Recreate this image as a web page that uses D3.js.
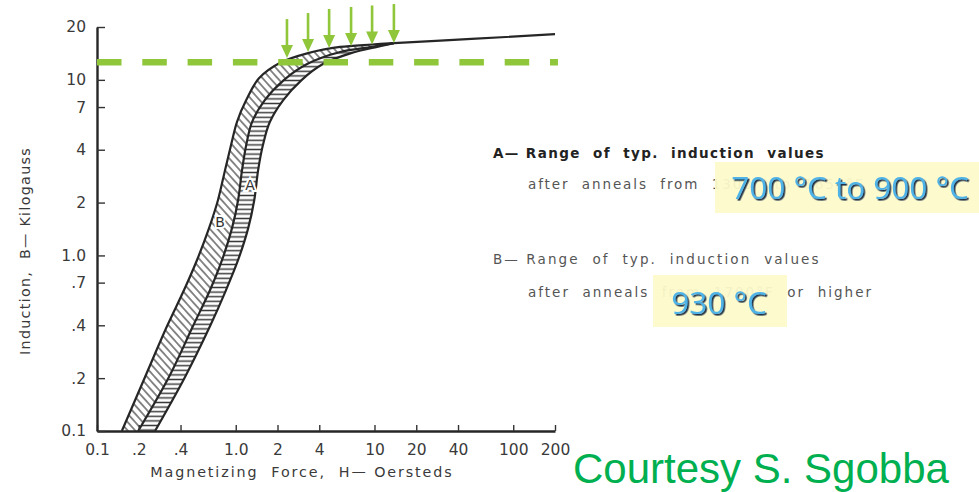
<!DOCTYPE html>
<html><head><meta charset="utf-8">
<script src="https://cdn.jsdelivr.net/npm/d3@7"></script>
<style>body{margin:0;background:#fff}svg{display:block}</style>
</head><body>
<svg id="chart" width="979" height="492"></svg>
<script>
// Typical B–H magnetization bands for two anneal ranges (log–log)
const xTicks = [0.1, 0.2, 0.4, 1, 2, 4, 10, 20, 40, 100, 200];
const xTickLabels = ["0.1", ".2", ".4", "1.0", "2", "4", "10", "20", "40", "100", "200"];
const yTicks = [0.1, 0.2, 0.4, 0.7, 1, 2, 4, 7, 10, 20];
const yTickLabels = ["0.1", ".2", ".4", ".7", "1.0", "2", "4", "7", "10", "20"];

// Band boundaries as [H (Oe), B (kG)]
const boundLeft = [[0.151,0.1],[0.222,0.203],[0.320,0.396],[0.424,0.635],[0.526,0.942],[0.642,1.43],[0.745,2.07],[0.837,3.06],[0.925,4.25],[1.02,5.75],[1.19,7.67],[1.47,10.2],[2.09,12.5],[3.32,14.2],[5.65,15.4],[9.61,15.9],[13.8,16.2]];
const boundMiddle = [[0.198,0.1],[0.330,0.203],[0.492,0.396],[0.653,0.635],[0.797,0.942],[0.940,1.43],[1.04,2.07],[1.11,3.06],[1.19,4.25],[1.31,5.75],[1.62,7.67],[2.22,9.97],[3.27,12.3],[5.65,14.4],[9.61,15.4],[13.8,16.2]];
const boundRight = [[0.262,0.1],[0.431,0.203],[0.653,0.396],[0.851,0.635],[1.04,0.942],[1.23,1.43],[1.36,2.07],[1.45,3.06],[1.57,4.25],[1.76,5.75],[2.2,7.67],[2.98,9.97],[4.25,12.3],[6.78,14.2],[9.61,15.2],[13.8,16.2]];
const saturation = [[13.8,16.2],[50,17.1],[200,18.2]];

// Reference induction level and marker arrows
const refInduction = 12.6;
const arrowH = [2.34, 3.32, 4.71, 6.78, 9.61, 13.8];
const arrowB = [13.3, 14.4, 15.2, 15.6, 15.9, 16.2];

const green = "#8fc63a";
const ink = "#262626";
const gothic = "'DejaVu Sans', sans-serif";

const svg = d3.select("#chart");
const x = d3.scaleLog().domain([0.1, 200]).range([97, 555]);
const y = d3.scaleLog().domain([0.1, 20]).range([431, 27]);

const defs = svg.append("defs");
// hatch for band B (diagonal) and band A (horizontal)
const pB = defs.append("pattern").attr("id", "hatchB").attr("patternUnits", "userSpaceOnUse")
  .attr("width", 12).attr("height", 5.6).attr("patternTransform", "rotate(48)");
pB.append("line").attr("x1", 0).attr("x2", 12).attr("y1", 2.8).attr("y2", 2.8)
  .attr("stroke", "#4a4a4a").attr("stroke-width", 1.3);
const pA = defs.append("pattern").attr("id", "hatchA").attr("patternUnits", "userSpaceOnUse")
  .attr("width", 12).attr("height", 4.6);
pA.append("line").attr("x1", 0).attr("x2", 12).attr("y1", 2.3).attr("y2", 2.3)
  .attr("stroke", "#3a3a3a").attr("stroke-width", 1.5);
const shadow = defs.append("filter").attr("id", "shadow").attr("x", "-10%").attr("y", "-20%")
  .attr("width", "130%").attr("height", "150%");
shadow.append("feDropShadow").attr("dx", 1.6).attr("dy", 1.6).attr("stdDeviation", 0.5)
  .attr("flood-color", "#142740").attr("flood-opacity", 0.95);

const line = d3.line().x(d => x(d[0])).y(d => y(d[1])).curve(d3.curveCatmullRom.alpha(0.5));
function band(a, b) {
  const back = line(b.slice().reverse()).replace(/^M/, "L");
  return line(a) + back + "Z";
}

// Bands
svg.append("path").attr("d", band(boundLeft, boundMiddle)).attr("fill", "url(#hatchB)");
svg.append("path").attr("d", band(boundMiddle, boundRight)).attr("fill", "url(#hatchA)");
[boundLeft, boundMiddle, boundRight, saturation].forEach(c => {
  svg.append("path").attr("d", line(c)).attr("fill", "none")
    .attr("stroke", ink).attr("stroke-width", 2.2);
});

// Band letters
[["A", 1.27, 2.52], ["B", 0.77, 1.55]].forEach(([t, h, b]) => {
  svg.append("text").attr("x", x(h)).attr("y", y(b)).attr("dy", "0.36em")
    .attr("text-anchor", "middle").attr("font-family", gothic).attr("font-size", 14)
    .attr("fill", "#333").attr("stroke", "#fff").attr("stroke-width", 4)
    .attr("paint-order", "stroke").text(t);
});

// Axes
const xAxis = d3.axisBottom(x).tickValues(xTicks).tickFormat((d, i) => xTickLabels[i])
  .tickSizeInner(-6).tickSizeOuter(0).tickPadding(13);
const yAxis = d3.axisLeft(y).tickValues(yTicks).tickFormat((d, i) => yTickLabels[i])
  .tickSizeInner(-8).tickSizeOuter(0).tickPadding(11);
const gx = svg.append("g").attr("transform", `translate(0,${y(0.1)})`).call(xAxis);
const gy = svg.append("g").attr("transform", `translate(${x(0.1)},0)`).call(yAxis);
[gx, gy].forEach(g => {
  g.select(".domain").attr("stroke", ink).attr("stroke-width", 2.4);
  g.selectAll(".tick line").attr("stroke", "#333").attr("stroke-width", 1.4);
  g.selectAll(".tick text").attr("font-family", gothic).attr("font-size", 15.5)
    .attr("fill", "#3a3a3a");
});

// Axis titles
svg.append("text").attr("transform", "translate(30,251) rotate(-90)")
  .attr("text-anchor", "middle").attr("font-family", gothic).attr("font-size", 14.3)
  .attr("letter-spacing", 1.3).attr("fill", "#3a3a3a").attr("xml:space", "preserve")
  .text("Induction,  B— Kilogauss");
svg.append("text").attr("x", 302).attr("y", 477).attr("text-anchor", "middle")
  .attr("font-family", gothic).attr("font-size", 14.3).attr("letter-spacing", 1.9)
  .attr("fill", "#3a3a3a").attr("xml:space", "preserve").text("Magnetizing  Force,  H— Oersteds");

// Reference level (dashed) and arrows
svg.append("line").attr("x1", x(0.1)).attr("x2", x(210)).attr("y1", y(refInduction)).attr("y2", y(refInduction))
  .attr("stroke", green).attr("stroke-width", 6.5).attr("stroke-dasharray", "24.5,20.8");
arrowH.forEach((h, i) => {
  const ax = x(h), ay = y(arrowB[i]);
  svg.append("line").attr("x1", ax).attr("x2", ax).attr("y1", ay - 39).attr("y2", ay - 10)
    .attr("stroke", green).attr("stroke-width", 2.6);
  svg.append("path").attr("d", `M${ax - 6},${ay - 13}L${ax + 6},${ay - 13}L${ax},${ay}Z`)
    .attr("fill", green);
});

// Legend
const leg = svg.append("g").attr("font-family", gothic).attr("font-size", 13.5);
leg.append("text").attr("x", 493).attr("y", 158).attr("fill", "#222").attr("font-weight", "bold")
  .attr("letter-spacing", 1.4).attr("xml:space", "preserve").text("A— Range  of  typ.  induction  values");
leg.append("text").attr("x", 528).attr("y", 189).attr("fill", "#555")
  .attr("letter-spacing", 1.9).attr("xml:space", "preserve").text("after  anneals  from  1300°  to  1650°F");
leg.append("text").attr("x", 493).attr("y", 264).attr("fill", "#555")
  .attr("letter-spacing", 2.1).attr("xml:space", "preserve").text("B— Range  of  typ.  induction  values");
leg.append("text").attr("x", 528).attr("y", 297).attr("fill", "#555")
  .attr("letter-spacing", 2.0).attr("xml:space", "preserve").text("after  anneals  from  1700°F  or  higher");

// Celsius call-outs
svg.append("rect").attr("x", 715).attr("y", 162).attr("width", 264).attr("height", 51)
  .attr("fill", "#fdfacb").attr("opacity", 0.94);
svg.append("rect").attr("x", 653).attr("y", 275).attr("width", 134).attr("height", 52)
  .attr("fill", "#fdfacb").attr("opacity", 0.94);
svg.append("text").attr("x", 850).attr("y", 199).attr("text-anchor", "middle")
  .attr("font-family", "'Open Sans', sans-serif").attr("font-size", 31.5)
  .attr("fill", "#4fb3e8").attr("filter", "url(#shadow)").text("700 °C to 900 °C");
svg.append("text").attr("x", 719).attr("y", 314).attr("text-anchor", "middle")
  .attr("font-family", "'Open Sans', sans-serif").attr("font-size", 31.5)
  .attr("fill", "#4fb3e8").attr("filter", "url(#shadow)").text("930 °C");

// Credit
svg.append("text").attr("x", 573).attr("y", 483).attr("font-family", "'Liberation Sans', Arial, sans-serif")
  .attr("font-size", 42).attr("fill", "#00b050").text("Courtesy S. Sgobba");
</script>
</body></html>
